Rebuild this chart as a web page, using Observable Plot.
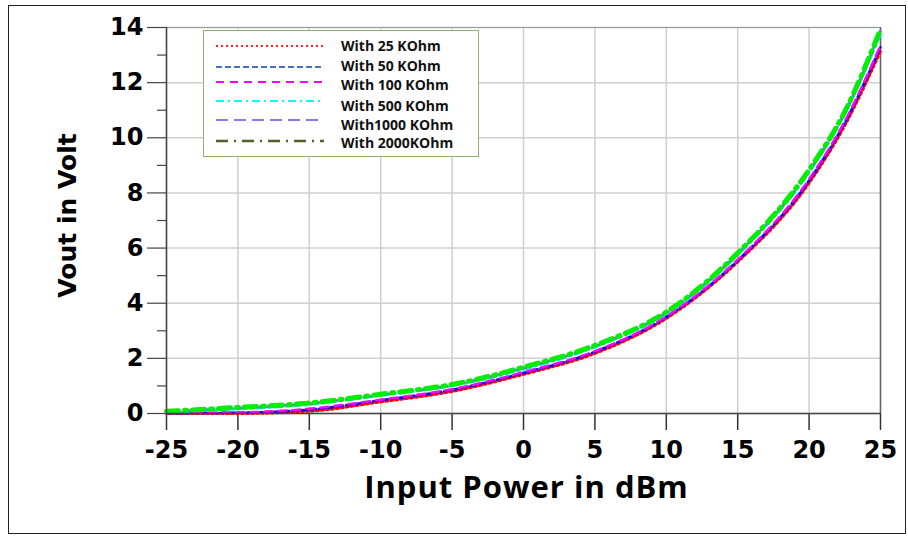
<!DOCTYPE html>
<html>
<head>
<meta charset="utf-8">
<script src="https://cdn.jsdelivr.net/npm/d3@7"></script>
<script src="https://cdn.jsdelivr.net/npm/@observablehq/plot@0.6"></script>
<style>
  html, body { margin: 0; padding: 0; background: #fff; }
  #wrap { position: relative; width: 908px; height: 538px; overflow: hidden; }
  #border { position: absolute; left: 8px; top: 5px; width: 896px; height: 527px; border: 1.5px solid #222; pointer-events: none; }
  #legend { position: absolute; left: 203px; top: 30px; width: 274px; height: 125px; border: 1.5px solid #8db36b; background: #fff; }
  #legend svg { position: absolute; left: 0; top: 0; }
</style>
</head>
<body>
<div id="wrap">
  <div id="chart"></div>
  <div id="legend"></div>
  <div id="border"></div>
</div>
<script>
// ---- data ----
const pin = [-25, -20, -15, -10, -5, 0, 5, 10, 15, 20, 22.5, 25];
const seriesNames = ["With 25 KOhm", "With 50 KOhm", "With 100 KOhm", "With 500 KOhm", "With1000 KOhm", "With 2000KOhm"];
const v25k   = [0.00, 0.00, 0.08, 0.42, 0.80, 1.42, 2.18, 3.45, 5.50, 8.36, 10.45, 13.14];
const v50k   = [0.01, 0.03, 0.14, 0.48, 0.86, 1.47, 2.24, 3.50, 5.55, 8.45, 10.55, 13.28];
const v100k  = [0.02, 0.04, 0.17, 0.50, 0.88, 1.50, 2.26, 3.52, 5.58, 8.50, 10.60, 13.35];
const v500k  = [0.05, 0.16, 0.32, 0.65, 1.00, 1.60, 2.40, 3.62, 5.74, 8.74, 10.85, 13.75];
const v1000k = [0.07, 0.20, 0.36, 0.68, 1.03, 1.65, 2.44, 3.66, 5.80, 8.80, 10.92, 13.88];
const v2000k = [0.08, 0.22, 0.38, 0.70, 1.05, 1.68, 2.47, 3.68, 5.82, 8.84, 10.95, 13.93];
const xTicks = [-25, -20, -15, -10, -5, 0, 5, 10, 15, 20, 25];
const yTicks = [0, 2, 4, 6, 8, 10, 12, 14];
const yMinorTicks = [1, 3, 5, 7, 9, 11, 13];

// styles (plot line / legend line)
const lineColors   = ["#ff0000", "#0000ff", "#ff00ff", "#00e5ff", "#7b68ee", "#00ee00"];
const legendColors = ["#ff2020", "#4472c4", "#ff00ff", "#00ffff", "#8877ee", "#4f6228"];
const dashes       = ["2,3", "6,3", "8,6", "8,4,2,4", "12,6", "12,6,2,6"];
const widths       = [3, 2.5, 2.5, 2.5, 2.5, 5];
const legendWidths = [2, 2, 2, 2, 2, 2.5];

const allValues = [v25k, v50k, v100k, v500k, v1000k, v2000k];
const data = [];
allValues.forEach((vals, s) => vals.forEach((v, i) => data.push({series: s, x: pin[i], y: v})));

const lineMarks = allValues.map((vals, s) =>
  Plot.line(data.filter(d => d.series === s), {
    x: "x", y: "y", stroke: lineColors[s], strokeWidth: widths[s],
    strokeDasharray: dashes[s], curve: "monotone-x"
  })
);

const fmt = d => String(d);

const chart = Plot.plot({
  width: 908,
  height: 538,
  marginLeft: 166,
  marginRight: 28,
  marginTop: 27,
  marginBottom: 125,
  style: {fontFamily: "DejaVu Sans", color: "#000", background: "#fff"},
  x: {domain: [-25, 25]},
  y: {domain: [0, 14]},
  marks: [
    Plot.gridX(xTicks, {stroke: "#cfcfcf", strokeOpacity: 1, strokeWidth: 1.5}),
    Plot.gridY(yTicks, {stroke: "#cfcfcf", strokeOpacity: 1, strokeWidth: 1.5}),
    Plot.ruleX([25], {stroke: "#666", strokeWidth: 1.5}),
    Plot.ruleY([14], {stroke: "#999", strokeWidth: 1}),
    Plot.axisY(yTicks, {tickSize: 19, tickPadding: 4, fontSize: 24, fontWeight: "bold", stroke: "#444", strokeWidth: 1.2, label: null, tickFormat: fmt}),
    Plot.axisY(yMinorTicks, {tickSize: 9, text: null, stroke: "#444", strokeWidth: 1.2, label: null}),
    Plot.axisX(xTicks, {tickSize: 17, tickPadding: 10, fontSize: 24, fontWeight: "bold", stroke: "#333", strokeWidth: 1.5, label: null, tickFormat: fmt}),
    ...lineMarks,
    Plot.ruleX([-25], {stroke: "#444", strokeWidth: 1.5}),
    Plot.ruleY([0], {stroke: "#444", strokeWidth: 1.5}),
    Plot.text(["Input Power in dBm"], {frameAnchor: "bottom", dy: 84, dx: 3, fontSize: 31, fontWeight: "bold", fontFamily: "Open Sans", fill: "#000"}),
    Plot.text(["Vout in Volt"], {frameAnchor: "left", textAnchor: "middle", dx: -99, dy: -5, rotate: -90, fontSize: 25, fontWeight: "bold", fontFamily: "DejaVu Sans", fill: "#000"})
  ]
});
document.getElementById("chart").appendChild(chart);
d3.select(chart).selectAll("text").filter(function() { return this.textContent === "Input Power in dBm"; })
  .attr("letter-spacing", "1px");

// legend
const ns = "http://www.w3.org/2000/svg";
const lsvg = document.createElementNS(ns, "svg");
lsvg.setAttribute("width", 274);
lsvg.setAttribute("height", 125);
const lineYs = [15, 36, 51, 70, 89, 110];
const textYs = [15, 35, 54, 75, 94, 112];
seriesNames.forEach((name, s) => {
  const ln = document.createElementNS(ns, "line");
  ln.setAttribute("x1", 12); ln.setAttribute("x2", 120);
  ln.setAttribute("y1", lineYs[s]); ln.setAttribute("y2", lineYs[s]);
  ln.setAttribute("stroke", legendColors[s]);
  ln.setAttribute("stroke-width", legendWidths[s]);
  ln.setAttribute("stroke-dasharray", dashes[s]);
  lsvg.appendChild(ln);
  const tx = document.createElementNS(ns, "text");
  tx.setAttribute("x", 137); tx.setAttribute("y", textYs[s]);
  tx.setAttribute("dy", "0.35em");
  tx.setAttribute("font-family", "Open Sans");
  tx.setAttribute("font-weight", "bold");
  tx.setAttribute("font-size", 14);
  tx.setAttribute("fill", "#111");
  tx.textContent = name;
  lsvg.appendChild(tx);
});
document.getElementById("legend").appendChild(lsvg);
</script>
</body>
</html>
